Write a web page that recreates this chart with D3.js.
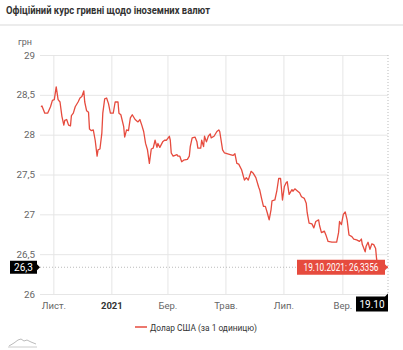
<!DOCTYPE html>
<html><head><meta charset="utf-8">
<script src="https://cdn.jsdelivr.net/npm/d3@7"></script>
<style>
html,body{margin:0;padding:0;background:#fff;}
svg{display:block;font-family:Roboto, "Noto Sans", sans-serif;}
</style></head>
<body>
<svg id="chart" width="403" height="350"></svg>
<script>
const title = "Офіційний курс гривні щодо іноземних валют";
const unitLabel = "грн";
const seriesName = "Долар США (за 1 одиницю)";
const dates = ["2020-10-19","2020-10-20","2020-10-23","2020-10-26","2020-10-29","2020-10-31","2020-11-02","2020-11-04","2020-11-06","2020-11-08",
"2020-11-10","2020-11-12","2020-11-13","2020-11-15","2020-11-17","2020-11-19","2020-11-20","2020-11-22","2020-11-24","2020-11-27",
"2020-11-29","2020-12-01","2020-12-03","2020-12-04","2020-12-06","2020-12-08","2020-12-09","2020-12-11","2020-12-13","2020-12-15",
"2020-12-17","2020-12-18","2020-12-20","2020-12-22","2020-12-23","2020-12-25","2020-12-27","2020-12-29","2020-12-31","2021-01-03",
"2021-01-05","2021-01-08","2021-01-09","2021-01-11","2021-01-14","2021-01-15","2021-01-17","2021-01-19","2021-01-21","2021-01-23",
"2021-01-26","2021-01-29","2021-01-31","2021-02-02","2021-02-04","2021-02-06","2021-02-08","2021-02-10","2021-02-12","2021-02-14",
"2021-02-16","2021-02-18","2021-02-19","2021-02-21","2021-02-24","2021-02-26","2021-02-28","2021-03-03","2021-03-04","2021-03-05",
"2021-03-07","2021-03-11","2021-03-12","2021-03-14","2021-03-16","2021-03-18","2021-03-22","2021-03-24","2021-03-25","2021-03-27",
"2021-03-30","2021-04-01","2021-04-02","2021-04-05","2021-04-06","2021-04-08","2021-04-09","2021-04-11","2021-04-13","2021-04-15",
"2021-04-16","2021-04-19","2021-04-22","2021-04-24","2021-04-25","2021-04-28","2021-04-30","2021-05-06","2021-05-09","2021-05-11",
"2021-05-13","2021-05-15","2021-05-18","2021-05-21","2021-05-23","2021-05-25","2021-05-28","2021-05-30","2021-06-02","2021-06-05",
"2021-06-06","2021-06-08","2021-06-10","2021-06-12","2021-06-14","2021-06-16","2021-06-18","2021-06-19","2021-06-22","2021-06-24",
"2021-06-26","2021-06-28","2021-06-30","2021-07-02","2021-07-04","2021-07-05","2021-07-07","2021-07-10","2021-07-11","2021-07-13",
"2021-07-16","2021-07-18","2021-07-20","2021-07-23","2021-07-25","2021-07-26","2021-07-28","2021-07-31","2021-08-02","2021-08-04",
"2021-08-07","2021-08-08","2021-08-10","2021-08-13","2021-08-15","2021-08-17","2021-08-21","2021-08-26","2021-08-28","2021-08-29",
"2021-08-31","2021-09-02","2021-09-04","2021-09-06","2021-09-08","2021-09-11","2021-09-13","2021-09-16","2021-09-19","2021-09-21",
"2021-09-22","2021-09-25","2021-09-26","2021-09-28","2021-09-30","2021-10-02","2021-10-04","2021-10-06","2021-10-07","2021-10-08",
"2021-10-12","2021-10-19"];
const usdRates = [28.35,28.36,28.27,28.27,28.35,28.43,28.44,28.60,28.44,28.41,
28.23,28.12,28.18,28.19,28.12,28.11,28.24,28.27,28.35,28.41,
28.46,28.48,28.55,28.41,28.30,28.28,28.07,28.05,28.06,27.93,
27.73,27.81,27.82,28.02,28.27,28.45,28.46,28.39,28.27,28.27,
28.41,28.41,28.27,28.25,28.10,27.97,28.06,28.05,28.21,28.25,
28.19,28.16,28.19,28.12,28.04,27.89,27.81,27.64,27.82,27.83,
27.93,27.84,27.89,27.84,27.91,27.93,27.93,27.98,27.93,27.77,
27.73,27.75,27.73,27.73,27.66,27.68,27.69,27.73,27.85,27.96,
27.97,27.91,27.83,27.83,27.93,27.85,27.98,27.91,27.98,28.01,
27.96,27.98,28.04,28.06,28.04,27.81,27.77,27.75,27.74,27.76,
27.64,27.63,27.56,27.43,27.46,27.43,27.54,27.52,27.46,27.34,
27.31,27.20,27.10,27.10,27.02,26.93,27.06,27.17,27.18,27.29,
27.45,27.45,27.18,27.35,27.40,27.41,27.25,27.31,27.29,27.32,
27.29,27.27,27.22,27.20,27.14,27.02,26.89,26.88,26.83,26.91,
26.93,26.86,26.77,26.79,26.73,26.66,26.65,26.65,26.77,26.91,
26.87,27.00,27.03,26.93,26.74,26.72,26.69,26.68,26.66,26.69,
26.62,26.53,26.60,26.65,26.56,26.63,26.62,26.57,26.44,26.36,
26.35,26.3356];
const yTicks = [26,26.5,27,27.5,28,28.5,29];
const xTickDates = ["2020-11-01","2021-01-01","2021-03-01","2021-05-01","2021-07-01","2021-09-01"];
const xTickLabels = ["Лист.","2021","Бер.","Трав.","Лип.","Вер."];
const tooltipText = "19.10.2021: 26,3356";
const crossYLabel = "26,3";
const crossXLabel = "19.10";

const parse = d3.timeParse("%Y-%m-%d");
const data = dates.map((d,i)=>({date:parse(d), value:usdRates[i]}));
const svg = d3.select("#chart");
const red = "#e64b3e";

const x = d3.scaleTime().domain([parse("2020-10-19"), parse("2021-10-19")]).range([41, 388]);
const y = d3.scaleLinear().domain([26, 29]).range([294, 55]);
const fmt = v => String(v).replace(".", ",");

// title + separator
svg.append("text").attr("x",6).attr("y",13.5).attr("font-size",10).attr("font-weight","bold")
  .attr("fill","#333").attr("textLength",204).attr("lengthAdjust","spacingAndGlyphs").text(title);
svg.append("rect").attr("x",0).attr("y",24).attr("width",403).attr("height",2).attr("fill","#ececec");

// horizontal grid + y labels
const yAxis = d3.axisLeft(y).tickValues(yTicks).tickSize(-(388-40)).tickFormat(fmt);
const yg = svg.append("g").attr("transform","translate(40,0)").call(yAxis);
yg.select(".domain").remove();
yg.selectAll(".tick line").attr("stroke","#e6e6e6");
yg.selectAll(".tick text").attr("fill","#666").attr("font-size",9.8).attr("x",-5).attr("font-family","Roboto, sans-serif");

svg.append("text").attr("x",18).attr("y",45).attr("font-size",9).attr("fill","#666").text(unitLabel);

// vertical grid + x labels
const xTicks = xTickDates.map(parse);
const xAxis = d3.axisBottom(x).tickValues(xTicks).tickSize(-(294-55)).tickFormat((d,i)=>xTickLabels[i]).tickPadding(8);
const xg = svg.append("g").attr("transform","translate(0,294)").call(xAxis);
xg.select(".domain").remove();
xg.selectAll(".tick line").attr("stroke","#e6e6e6");
xg.selectAll(".tick text").attr("font-size",9.5).attr("font-family","Roboto, sans-serif")
  .attr("font-weight",(d,i)=>xTickLabels[i]==="2021"?"bold":"normal")
  .attr("fill",(d,i)=>xTickLabels[i]==="2021"?"#333":"#666");

// crosshairs
const last = data[data.length-1];
const lx = x(last.date), ly = y(last.value);
svg.append("line").attr("x1",lx).attr("x2",lx).attr("y1",55).attr("y2",294)
  .attr("stroke","#bbb").attr("stroke-dasharray","1,2");
svg.append("line").attr("x1",40).attr("x2",lx).attr("y1",ly).attr("y2",ly)
  .attr("stroke","#bbb").attr("stroke-dasharray","1,2");

// line
const line = d3.line().x(d=>x(d.date)).y(d=>y(d.value));
svg.append("path").datum(data).attr("d",line).attr("fill","none").attr("stroke",red)
  .attr("stroke-width",1.3).attr("stroke-linejoin","round");

// tooltip label
const tw = 88, th = 15;
const tg = svg.append("g");
tg.append("path").attr("d",`M${lx-3-tw},${ly-th/2} h${tw} v${th/2-3} l3,3 l-3,3 v${th/2-3} h${-tw} z`)
  .attr("fill",red);
tg.append("text").attr("x",lx-3-tw/2-37.5).attr("y",ly+3.5).attr("font-size",10)
  .attr("textLength",75).attr("lengthAdjust","spacingAndGlyphs")
  .attr("fill","#fff").text(tooltipText);

// y crosshair label
const yl = svg.append("g");
yl.append("path").attr("d",`M10,${ly-6.5} h27 v3.5 l3,3 l-3,3 v3.5 h-27 z`).attr("fill","#000");
yl.append("text").attr("x",23.5).attr("y",ly+3.5).attr("text-anchor","middle").attr("font-size",10)
  .attr("fill","#fff").text(crossYLabel);

// x crosshair label
const xl = svg.append("g");
xl.append("path").attr("d",`M${lx-32},296.5 h${29} l3,-3 v18 h-32 z`).attr("fill","#000");
xl.append("text").attr("x",lx-16).attr("y",307.5).attr("text-anchor","middle").attr("font-size",10)
  .attr("fill","#fff").text(crossXLabel);

// legend
svg.append("line").attr("x1",135).attr("x2",147).attr("y1",327).attr("y2",327).attr("stroke",red).attr("stroke-width",1.5);
svg.append("text").attr("x",150).attr("y",330.5).attr("font-size",9.8).attr("fill","#333")
  .attr("textLength",107).attr("lengthAdjust","spacingAndGlyphs").text(seriesName);

// small logo mark at bottom left
svg.append("path").attr("d","M9,346 L14,343 L18,340 L21,339 L24,341 L27,340 L31,342 L36,344")
  .attr("fill","none").attr("stroke","#bbb").attr("stroke-width",1);
svg.append("line").attr("x1",8).attr("x2",37).attr("y1",347).attr("y2",347).attr("stroke","#ccc").attr("stroke-width",1);
</script>
</body></html>
